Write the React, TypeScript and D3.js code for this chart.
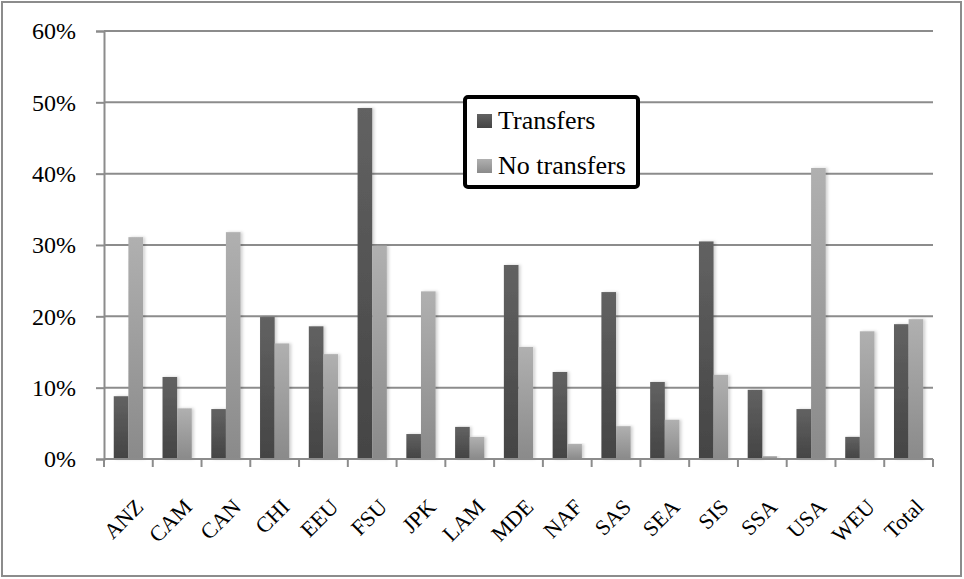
import React, { useRef, useEffect } from 'react';
import * as d3 from 'd3';

const regions = ['ANZ', 'CAM', 'CAN', 'CHI', 'EEU', 'FSU', 'JPK', 'LAM', 'MDE', 'NAF', 'SAS', 'SEA', 'SIS', 'SSA', 'USA', 'WEU', 'Total'];
const transfers = [8.8, 11.5, 7.0, 19.9, 18.6, 49.2, 3.5, 4.5, 27.2, 12.2, 23.4, 10.8, 30.5, 9.7, 7.0, 3.1, 18.9];
const noTransfers = [31.1, 7.1, 31.8, 16.2, 14.7, 29.9, 23.5, 3.1, 15.7, 2.1, 4.6, 5.5, 11.8, 0.4, 40.8, 17.9, 19.6];
const yTicks = [0, 10, 20, 30, 40, 50, 60];
const seriesNames = ['Transfers', 'No transfers'];

function App() {
  const chartRef = useRef<SVGSVGElement>(null);

  useEffect(() => {
    drawChart();
  }, []);

  const drawChart = () => {
    const svgWidth = 964;
    const svgHeight = 579;
    const margin = { top: 31, right: 31, bottom: 120, left: 104 };
    const width = svgWidth - margin.left - margin.right;
    const height = svgHeight - margin.top - margin.bottom;
    const font = "'Liberation Serif', 'Times New Roman', serif";

    const root = d3.select(chartRef.current);
    root.selectAll('*').remove();
    root.attr('width', svgWidth).attr('height', svgHeight)
      .style('font-family', font);

    const defs = root.append('defs');
    const grad = (id: string, top: string, bottom: string) => {
      const g = defs.append('linearGradient').attr('id', id)
        .attr('x1', 0).attr('y1', 0).attr('x2', 0).attr('y2', 1);
      g.append('stop').attr('offset', '0%').attr('stop-color', top);
      g.append('stop').attr('offset', '100%').attr('stop-color', bottom);
    };
    grad('gDark', '#626262', '#444444');
    grad('gLight', '#b0b0b0', '#8a8a8a');
    const shadow = defs.append('filter').attr('id', 'shadow')
      .attr('x', '-20%').attr('y', '-5%').attr('width', '160%').attr('height', '110%');
    shadow.append('feDropShadow').attr('dx', 2).attr('dy', 0).attr('stdDeviation', 1.5)
      .attr('flood-color', '#000').attr('flood-opacity', 0.18);

    // outer frame
    root.append('rect')
      .attr('x', 2).attr('y', 2).attr('width', 959).attr('height', 574)
      .attr('fill', 'white').attr('stroke', '#8c8c8c').attr('stroke-width', 2);

    const svg = root.append('g')
      .attr('transform', `translate(${margin.left},${margin.top})`);

    const xScale = d3.scaleBand()
      .domain(regions)
      .range([0, width]);

    const yScale = d3.scaleLinear()
      .domain([0, 60])
      .range([height, 0]);

    // gridlines
    svg.selectAll('.grid')
      .data(yTicks.filter(t => t > 0))
      .enter().append('line')
      .attr('x1', 0).attr('x2', width)
      .attr('y1', d => yScale(d)).attr('y2', d => yScale(d))
      .attr('stroke', '#8c8c8c').attr('stroke-width', 2);

    // y axis
    const yAxis = svg.append('g')
      .call(d3.axisLeft(yScale).tickValues(yTicks).tickSize(8).tickFormat(d => `${d}%`))
      .attr('font-family', font)
      .attr('font-size', 24);
    yAxis.select('.domain').attr('stroke', '#8c8c8c').attr('stroke-width', 2);
    yAxis.selectAll('.tick line').attr('stroke', '#8c8c8c').attr('stroke-width', 2);
    yAxis.selectAll('.tick text')
      .attr('x', -28)
      .attr('font-size', 24)
      .attr('fill', '#000');

    // bars
    const barW = xScale.bandwidth() * 0.3;
    const series = [
      { values: transfers, fill: 'url(#gDark)', offset: -barW },
      { values: noTransfers, fill: 'url(#gLight)', offset: 0 }
    ];
    series.forEach(s => {
      svg.selectAll(null)
        .data(regions)
        .enter().append('rect')
        .attr('x', d => (xScale(d) as number) + xScale.bandwidth() / 2 + s.offset)
        .attr('y', (d, i) => yScale(s.values[i]))
        .attr('width', barW)
        .attr('height', (d, i) => height - yScale(s.values[i]))
        .attr('fill', s.fill)
        .attr('filter', 'url(#shadow)');
    });

    // x axis
    const xAxis = svg.append('g')
      .attr('transform', `translate(0,${height})`);
    xAxis.append('line')
      .attr('x1', 0).attr('x2', width)
      .attr('stroke', '#8c8c8c').attr('stroke-width', 2);
    xAxis.selectAll('.xtick')
      .data([0, ...regions.map(r => (xScale(r) as number) + xScale.bandwidth())])
      .enter().append('line')
      .attr('x1', d => d).attr('x2', d => d)
      .attr('y1', 0).attr('y2', 8)
      .attr('stroke', '#8c8c8c').attr('stroke-width', 2);
    xAxis.selectAll('.xlabel')
      .data(regions)
      .enter().append('text')
      .attr('transform', d => `translate(${(xScale(d) as number) + xScale.bandwidth() / 2 + 6},${39}) rotate(-45)`)
      .attr('text-anchor', 'end')
      .attr('dy', '0.66em')
      .attr('font-size', 22)
      .attr('fill', '#000')
      .text(d => d);

    // legend
    const legend = root.append('g')
      .attr('transform', 'translate(463, 95)');
    legend.append('rect')
      .attr('x', 2).attr('y', 2)
      .attr('width', 173).attr('height', 90).attr('rx', 3)
      .attr('fill', 'white').attr('stroke', '#000').attr('stroke-width', 4);
    seriesNames.forEach((name, i) => {
      legend.append('rect')
        .attr('x', 14).attr('y', 19 + i * 45)
        .attr('width', 15).attr('height', 14)
        .attr('fill', i === 0 ? 'url(#gDark)' : 'url(#gLight)');
      legend.append('text')
        .attr('x', 35).attr('y', 34 + i * 45)
        .attr('font-size', 26)
        .attr('fill', '#000')
        .text(name);
    });
  };

  return (
    <svg ref={chartRef} style={{ position: 'absolute', left: 0, top: 0 }}></svg>
  );
}

export default App;
